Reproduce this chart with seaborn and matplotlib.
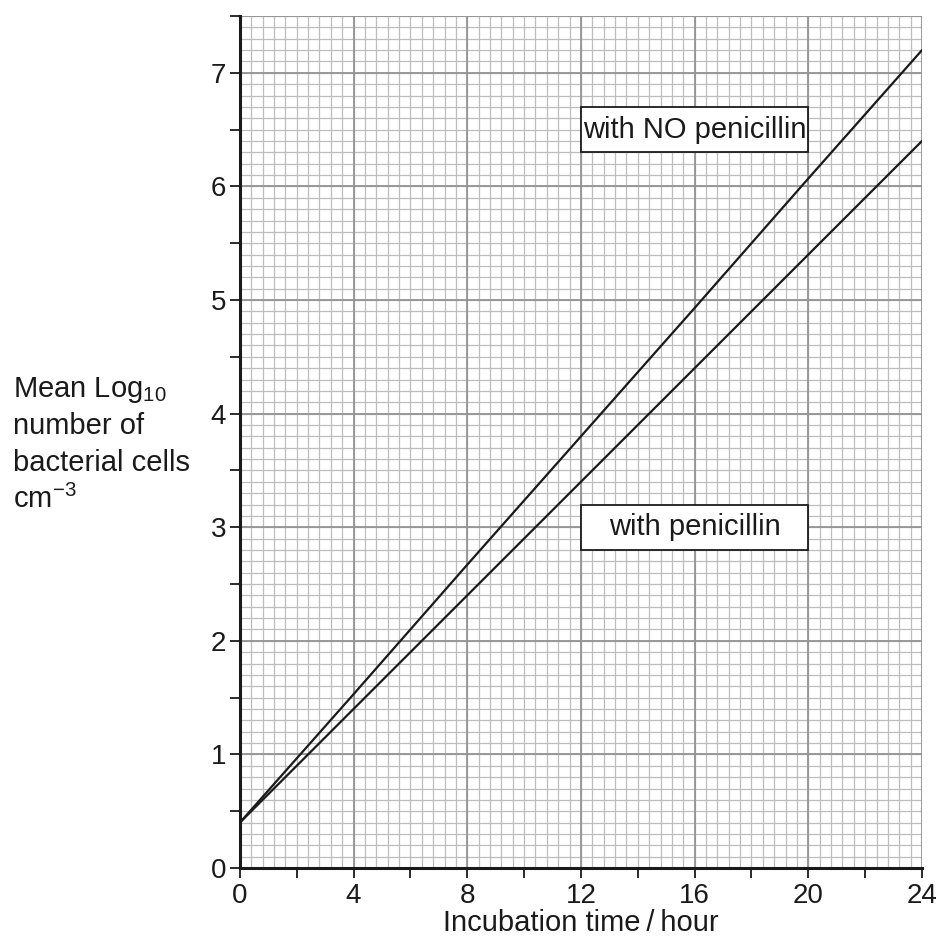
import numpy as np
import pandas as pd
import matplotlib
matplotlib.use("Agg")
import matplotlib.pyplot as plt
from matplotlib.ticker import MultipleLocator
from matplotlib.patches import Rectangle
import seaborn as sns

# ---- data ----
time_hours = [0, 4, 8, 12, 16, 20, 24]
no_penicillin = [0.4, 1.53, 2.67, 3.8, 4.93, 6.07, 7.2]
with_penicillin = [0.4, 1.4, 2.4, 3.4, 4.4, 5.4, 6.4]
series_names = ["with NO penicillin", "with penicillin"]
x_ticks = [0, 4, 8, 12, 16, 20, 24]
y_ticks = [0, 1, 2, 3, 4, 5, 6, 7]

df = pd.DataFrame({
    "time": time_hours * 2,
    "value": no_penicillin + with_penicillin,
    "series": [series_names[0]] * len(time_hours) + [series_names[1]] * len(time_hours),
})

sns.set_theme(style="white")
plt.rcParams["font.family"] = ["Liberation Sans", "DejaVu Sans"]
plt.rcParams["mathtext.fontset"] = "custom"
plt.rcParams["mathtext.rm"] = "Liberation Sans"
plt.rcParams["mathtext.it"] = "Liberation Sans"
plt.rcParams["mathtext.bf"] = "Liberation Sans:bold"

fig = plt.figure(figsize=(9.37, 9.43), dpi=100)
ax = fig.add_axes([0.256, 0.0795, 0.728, 0.9035])

ax.set_xlim(0, 24)
ax.set_ylim(0, 7.5)

# fine graph-paper grid
fine_x = np.arange(0, 24.001, 0.4)
fine_y = np.arange(0, 7.501, 0.1)
ax.vlines(fine_x, 0, 7.5, colors="#bdbdbd", linewidth=0.9, zorder=0)
ax.hlines(fine_y, 0, 24, colors="#bdbdbd", linewidth=0.9, zorder=0)
ax.vlines(x_ticks, 0, 7.5, colors="#939393", linewidth=1.3, zorder=0.5)
ax.hlines(y_ticks + [7.5], 0, 24, colors="#939393", linewidth=1.3, zorder=0.5)

sns.lineplot(data=df, x="time", y="value", hue="series",
             palette=["#1a1a1a", "#1a1a1a"], linewidth=1.6, legend=False,
             ax=ax, zorder=3)

ax.set_xticks(x_ticks)
ax.set_yticks(y_ticks)
ax.xaxis.set_minor_locator(MultipleLocator(2))
ax.yaxis.set_minor_locator(MultipleLocator(0.5))
ax.tick_params(which="both", direction="out", length=7, width=1.3,
               color="#1a1a1a", labelsize=20, labelcolor="#1a1a1a",
               bottom=True, left=True)
ax.tick_params(axis="x", pad=4)
ax.tick_params(axis="y", pad=3)

for s in ["top", "right"]:
    ax.spines[s].set_visible(False)
for s in ["left", "bottom"]:
    ax.spines[s].set_color("#1a1a1a")
    ax.spines[s].set_linewidth(2.2)
    ax.spines[s].set_zorder(5)

ax.set_xlabel("Incubation time\u2009/\u2009hour", fontsize=21, color="#1a1a1a", labelpad=0)
ax.set_ylabel("")

# label boxes
for (x0, y0, txt) in [(12, 6.3, series_names[0]), (12, 2.8, series_names[1])]:
    ax.add_patch(Rectangle((x0, y0), 8, 0.4, facecolor="white",
                           edgecolor="#1a1a1a", linewidth=1.3, zorder=4))
    ax.text(x0 + 4, y0 + 0.2, txt, ha="center", va="center",
            fontsize=21, color="#1a1a1a", zorder=5)

# y label lines
ylab = ["Mean Log$_{10}$", "number of", "bacterial cells", "cm$^{\u22123}$"]
ybase = [397, 434, 471, 508]
for t, yb in zip(ylab, ybase):
    fig.text(13 / 937, 1 - yb / 943, t, ha="left", va="baseline",
             fontsize=21, color="#1a1a1a")

fig.savefig("out.png", dpi=100)
